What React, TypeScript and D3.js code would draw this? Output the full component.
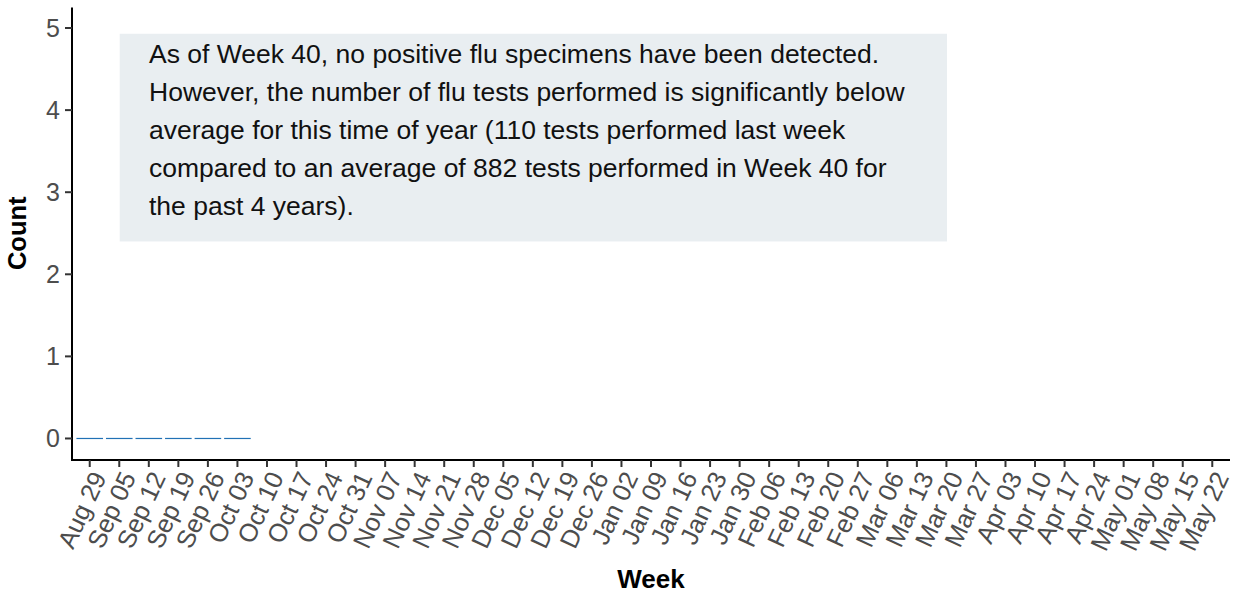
import React from "react";
import * as d3 from "d3";

const weeks = [
  "Aug 29", "Sep 05", "Sep 12", "Sep 19", "Sep 26", "Oct 03", "Oct 10", "Oct 17", "Oct 24", "Oct 31",
  "Nov 07", "Nov 14", "Nov 21", "Nov 28", "Dec 05", "Dec 12", "Dec 19", "Dec 26", "Jan 02", "Jan 09",
  "Jan 16", "Jan 23", "Jan 30", "Feb 06", "Feb 13", "Feb 20", "Feb 27", "Mar 06", "Mar 13", "Mar 20",
  "Mar 27", "Apr 03", "Apr 10", "Apr 17", "Apr 24", "May 01", "May 08", "May 15", "May 22",
];
const dataWeeks = ["Aug 29", "Sep 05", "Sep 12", "Sep 19", "Sep 26", "Oct 03"];
const counts = [0, 0, 0, 0, 0, 0];
const yTicks = [0, 1, 2, 3, 4, 5];
const noteLines = [
  "As of Week 40, no positive flu specimens have been detected.",
  "However, the number of flu tests performed is significantly below",
  "average for this time of year (110 tests performed last week",
  "compared to an average of 882 tests performed in Week 40 for",
  "the past 4 years).",
];
const noteBox = { x0: 1.015, x1: 29.02, y0: 2.4, y1: 4.93 };

const W = 1233;
const H = 593;
const left = 72;
const right = 1230;
const top = 7.5;
const bottom = 459;
const font = "'Liberation Sans', Arial, Helvetica, sans-serif";

export default function App() {
  const n = weeks.length;
  const x = d3.scaleLinear().domain([-0.6, n - 1 + 0.6]).range([left, right]);
  const y = d3.scaleLinear().domain([-0.25, 5.25]).range([bottom, top]);
  const step = x(1) - x(0);
  const barW = step * 0.9;

  return (
    <svg width={W} height={H} style={{ position: "absolute", left: 0, top: 0 }} fontFamily={font}>
      <rect x={0} y={0} width={W} height={H} fill="#ffffff" />
      {/* annotation box */}
      <rect
        x={x(noteBox.x0)}
        y={y(noteBox.y1)}
        width={x(noteBox.x1) - x(noteBox.x0)}
        height={y(noteBox.y0) - y(noteBox.y1)}
        fill="#e9eef1"
      />
      {noteLines.map((t, i) => (
        <text key={i} x={149} y={62.5 + i * 38} fontSize={26.5} fill="#111111">
          {t}
        </text>
      ))}
      {/* bars (zero height) */}
      {dataWeeks.map((w, i) => {
        const xi = weeks.indexOf(w);
        const y0 = y(0);
        const y1 = y(counts[i]);
        return (
          <rect
            key={w}
            x={x(xi) - barW / 2}
            y={Math.min(y0, y1) - 0.6}
            width={barW}
            height={Math.max(Math.abs(y1 - y0), 0) + 1.2}
            fill="#2171b5"
          />
        );
      })}
      {/* y axis */}
      <line x1={left} x2={left} y1={top} y2={bottom + 1} stroke="#000" strokeWidth={2} />
      {yTicks.map((t) => (
        <g key={t}>
          <line x1={left - 7} x2={left} y1={y(t)} y2={y(t)} stroke="#333" strokeWidth={2} />
          <text x={left - 12} y={y(t)} dy="0.36em" textAnchor="end" fontSize={25} fill="#4d4d4d">
            {t}
          </text>
        </g>
      ))}
      {/* x axis */}
      <line x1={left - 1} x2={right} y1={bottom + 1} y2={bottom + 1} stroke="#000" strokeWidth={2} />
      {weeks.map((w, i) => (
        <g key={w}>
          <line x1={x(i)} x2={x(i)} y1={bottom + 1} y2={bottom + 8} stroke="#333" strokeWidth={2} />
          <text
            transform={`translate(${x(i)},${bottom + 10}) rotate(-65)`}
            textAnchor="end"
            dy="0.75em"
            fontSize={25.5}
            fill="#4d4d4d"
          >
            {w}
          </text>
        </g>
      ))}
      {/* axis titles */}
      <text x={(left + right) / 2} y={588} textAnchor="middle" fontSize={26} fontWeight="bold" fill="#000">
        Week
      </text>
      <text
        transform={`translate(26,${(top + bottom) / 2}) rotate(-90)`}
        textAnchor="middle"
        fontSize={25.5}
        fontWeight="bold"
        fill="#000"
      >
        Count
      </text>
    </svg>
  );
}
